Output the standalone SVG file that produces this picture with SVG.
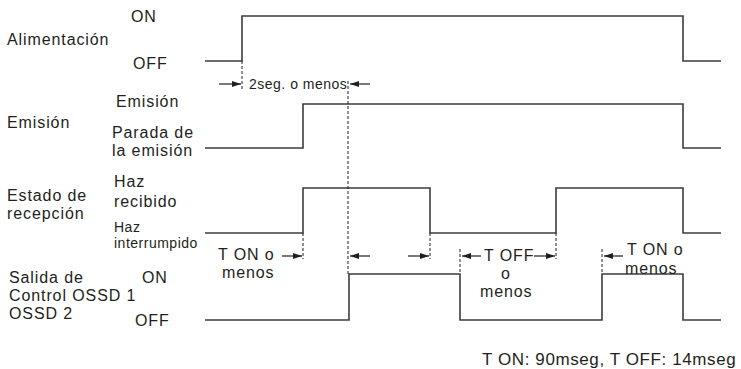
<svg xmlns="http://www.w3.org/2000/svg" width="741" height="369" viewBox="0 0 741 369">
<style>
text{font-family:"Liberation Sans",Arial,sans-serif;font-size:16px;fill:#231f20;letter-spacing:0.9px}
.s{font-size:14px;letter-spacing:0.5px}
.f{font-size:17px;letter-spacing:0.6px}
.sig{fill:none;stroke:#3c3c3c;stroke-width:1.6}
.dash{fill:none;stroke:#231f20;stroke-width:1;stroke-dasharray:3,2}
.arr{fill:none;stroke:#231f20;stroke-width:1.2;marker-end:url(#ah)}
</style>
<defs>
<marker id="ah" markerUnits="userSpaceOnUse" markerWidth="9" markerHeight="6" refX="9" refY="3" orient="auto">
<path d="M0,0 L9,3 L0,6 z" fill="#231f20"/>
</marker>
</defs>
<rect width="741" height="369" fill="#fff"/>
<g id="power">
<text x="131" y="22">ON</text>
<text x="7" y="45">Alimentación</text>
<text x="133" y="69">OFF</text>
<polyline class="sig" points="205,61 242,61 242,16 683,16 683,61 721,61"/>
</g>
<g id="emission">
<text x="116" y="107">Emisión</text>
<text x="7" y="128">Emisión</text>
<text x="112" y="138">Parada de</text>
<text x="112" y="156">la emisión</text>
<polyline class="sig" points="205,148 303,148 303,104 683,104 683,148 721,148"/>
</g>
<g id="reception">
<text x="114" y="187">Haz</text>
<text x="114" y="207">recibido</text>
<text x="7" y="201">Estado de</text>
<text x="7" y="219">recepción</text>
<text class="s" x="114" y="232">Haz</text>
<text class="s" x="114" y="248">interrumpido</text>
<polyline class="sig" points="205,233 303,233 303,188 430,188 430,233 556,233 556,188 683,188 683,233 721,233"/>
</g>
<g id="ossd">
<text x="9" y="283">Salida de</text>
<text x="142" y="283">ON</text>
<text x="9" y="301">Control OSSD 1</text>
<text x="9" y="319">OSSD 2</text>
<text x="135" y="326">OFF</text>
<polyline class="sig" points="205,320 349,320 349,274 460,274 460,320 602,320 602,274 683,274 683,320 721,320"/>
</g>
<g id="connectors">
<line class="dash" x1="242" y1="61" x2="242" y2="90"/>
<line class="dash" x1="348" y1="81" x2="348" y2="274"/>
<line class="dash" x1="303" y1="233" x2="303" y2="259"/>
<line class="dash" x1="430" y1="233" x2="430" y2="259"/>
<line class="dash" x1="460" y1="249" x2="460" y2="274"/>
<line class="dash" x1="556" y1="233" x2="556" y2="259"/>
<line class="dash" x1="602" y1="249" x2="602" y2="274"/>
<line class="arr" x1="219" y1="84" x2="241" y2="84"/>
<line class="arr" x1="370" y1="84" x2="350" y2="84"/>
<line class="arr" x1="282" y1="256" x2="302" y2="256"/>
<line class="arr" x1="370" y1="256" x2="350" y2="256"/>
<line class="arr" x1="408" y1="256" x2="429" y2="256"/>
<line class="arr" x1="481" y1="256" x2="462" y2="256"/>
<line class="arr" x1="534" y1="256" x2="555" y2="256"/>
<line class="arr" x1="623" y1="256" x2="604" y2="256"/>
</g>
<g id="annotations">
<text class="s" x="249" y="89">2seg. o menos</text>
<text x="218" y="260">T ON o</text>
<text x="222" y="278">menos</text>
<text x="484" y="261">T OFF</text>
<text x="501" y="279">o</text>
<text x="480" y="297">menos</text>
<text x="627" y="255">T ON o</text>
<text x="625" y="274">menos</text>
<text class="f" x="482" y="365">T ON: 90mseg, T OFF: 14mseg</text>
</g>
</svg>
